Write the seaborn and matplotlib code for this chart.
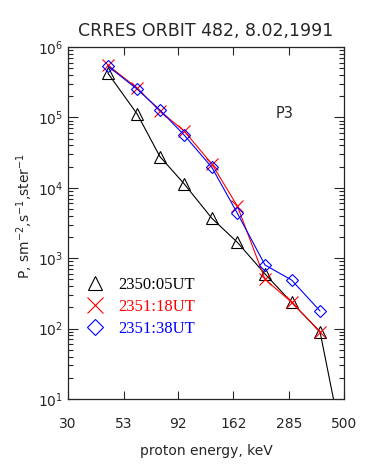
import matplotlib
matplotlib.use("Agg")
import pandas as pd
import seaborn as sns
from matplotlib import pyplot as plt
from matplotlib.lines import Line2D

# energies (keV) of the P-channels
energy = [45, 60.8, 76.6, 98, 130, 168.6, 223.5, 293, 391.5]
# fluxes
flux_0505 = [4.27e5, 1.11e5, 2.77e4, 1.14e4, 3.69e3, 1.68e3, 597, 236, 90.4]
flux_1818 = [5.55e5, 2.59e5, 1.23e5, 6.41e4, 2.18e4, 5.5e3, 501, 237, 90]
flux_3838 = [5.37e5, 2.51e5, 1.27e5, 5.62e4, 1.95e4, 4.35e3, 800, 490, 178]
# black curve keeps going below the frame
tail_energy = 460
tail_flux = 6.8

labels = ["2350:05UT", "2351:18UT", "2351:38UT"]
colors = ["black", "red", "blue"]
markers = ["^", "x", "D"]
xticks = [30, 53, 92, 162, 285, 500]

sns.set_style("ticks")
plt.rcParams["font.family"] = ["DejaVu Sans"]

fig = plt.figure(figsize=(3.74, 4.69), dpi=100)
ax = fig.add_axes([0.1818, 0.1493, 0.738, 0.7505])

series = [
    (energy + [tail_energy], flux_0505 + [tail_flux]),
    (energy, flux_1818),
    (energy, flux_3838),
]
msizes = [8, 8.5, 6]
for (xs, ys), c, m, ms in zip(series, colors, markers, msizes):
    df = pd.DataFrame({"E": xs, "P": ys})
    sns.lineplot(data=df, x="E", y="P", ax=ax, color=c, lw=0.8,
                 sort=False, estimator=None)
    # markers only on the measured channels
    n = len(energy)
    ax.plot(xs[:n], ys[:n], ls="none", marker=m, ms=ms, mfc="none",
            mec=c, mew=0.8)

ax.set_xscale("log")
ax.set_yscale("log")
ax.set_xlim(30, 500)
ax.set_ylim(10, 1e6)
ax.set_xticks(xticks)
ax.set_xticklabels([str(t) for t in xticks])
ax.minorticks_off()
ax.set_yticks([10, 1e2, 1e3, 1e4, 1e5, 1e6])
ax.set_yticks([m * 10**k for k in range(1, 6) for m in range(2, 10)], minor=True)
ax.tick_params(which="both", direction="in", top=True, right=True,
               width=0.8, labelsize=10)
ax.tick_params(axis="x", which="major", length=6, pad=13)
ax.tick_params(axis="y", which="major", length=7)
ax.tick_params(axis="y", which="minor", length=3.5)
for s in ax.spines.values():
    s.set_linewidth(0.9)

ax.set_title("CRRES ORBIT 482, 8.02,1991", fontsize=12.5, pad=8)
ax.set_xlabel("proton energy, keV", fontsize=10, labelpad=9)
ax.set_ylabel(r"P, sm$^{-2}$,s$^{-1}$,ster$^{-1}$", fontsize=10)
ax.yaxis.set_label_coords(-0.118, 0.52)
ax.text(0.786, 0.81, "P3", transform=ax.transAxes, fontsize=10.5,
        ha="center", va="center")

handles = [Line2D([], [], ls="none", marker=m, ms=s, mfc="none",
                  mec=c, mew=0.8, color=c)
           for m, c, s in zip(markers, colors, [10, 11, 8])]
ax.legend(handles, labels, loc="upper left", bbox_to_anchor=(0.069, 0.347),
          frameon=False, borderpad=0, borderaxespad=0, handlelength=1.0,
          handletextpad=0.86, labelspacing=0.35, labelcolor="linecolor",
          prop={"family": "Liberation Serif", "size": 12})

fig.savefig("out.png", dpi=100)
